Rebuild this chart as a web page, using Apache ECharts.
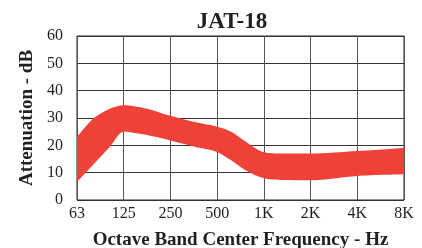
<!DOCTYPE html>
<html><head><meta charset="utf-8">
<script src="https://cdn.jsdelivr.net/npm/echarts@6/dist/echarts.min.js"></script>
<style>html,body{margin:0;padding:0;background:#fff}#c{width:422px;height:248px}</style>
</head><body><div id="c"></div>
<script>
const freqLabels = ['63','125','250','500','1K','2K','4K','8K'];
const bandPos  = [0, 0.35, 0.7, 1, 1.5, 2, 2.5, 3, 3.3, 3.6, 4, 4.5, 5, 6, 7];
const upperDb  = [23, 29.8, 33.4, 34.7, 33.4, 30.8, 28.6, 26.8, 25, 21.5, 17.5, 17, 17, 17.9, 19];
const lowerDb  = [6.6, 13, 19.4, 25, 23.8, 21.8, 19.6, 17.6, 14.5, 11, 8, 7.3, 7.2, 8.8, 9.4];
const yTicks = [0, 10, 20, 30, 40, 50, 60];

const serif = 'Liberation Serif';
const ink = '#231f20';
const chart = echarts.init(document.getElementById('c'), null, {renderer: 'canvas'});
chart.setOption({
  animation: false,
  title: {
    text: 'JAT-18', left: 227, top: 6, textAlign: 'center',
    textStyle: {fontFamily: serif, fontWeight: 'bold', fontSize: 23, color: ink}
  },
  grid: {left: 77, right: 18, top: 36, bottom: 48, outerBoundsMode: 'none', containLabel: false,
         show: true, borderColor: ink, borderWidth: 1},
  xAxis: {
    type: 'value', min: 0, max: freqLabels.length - 1, interval: 1,
    name: 'Octave Band Center Frequency - Hz', nameLocation: 'middle', nameGap: 31,
    nameTextStyle: {fontFamily: serif, fontWeight: 'bold', fontSize: 19, color: ink},
    axisLine: {show: false}, axisTick: {show: false},
    axisLabel: {formatter: v => freqLabels[Math.round(v)], fontFamily: serif, fontSize: 16, color: ink, margin: 6},
    splitLine: {show: true, lineStyle: {color: '#555', width: 1}}
  },
  yAxis: {
    type: 'value', min: yTicks[0], max: yTicks[yTicks.length - 1], interval: 10,
    name: 'Attenuation - dB', nameLocation: 'middle', nameGap: 34,
    nameTextStyle: {fontFamily: serif, fontWeight: 'bold', fontSize: 19, color: ink},
    axisLine: {show: false}, axisTick: {show: false},
    axisLabel: {fontFamily: serif, fontSize: 16, color: ink, margin: 14},
    splitLine: {show: true, lineStyle: {color: '#333', width: 1}}
  },
  series: [
    {
      type: 'line', stack: 'band', smooth: 0.3, symbol: 'none',
      encode: {x: 1, y: 0},
      lineStyle: {opacity: 0},
      data: bandPos.map((p, i) => [lowerDb[i], p])
    },
    {
      type: 'line', stack: 'band', smooth: 0.3, symbol: 'none',
      encode: {x: 1, y: 0},
      lineStyle: {opacity: 0},
      areaStyle: {color: '#ee4138', opacity: 1},
      data: bandPos.map((p, i) => [upperDb[i] - lowerDb[i], p])
    }
  ]
});
</script></body></html>
